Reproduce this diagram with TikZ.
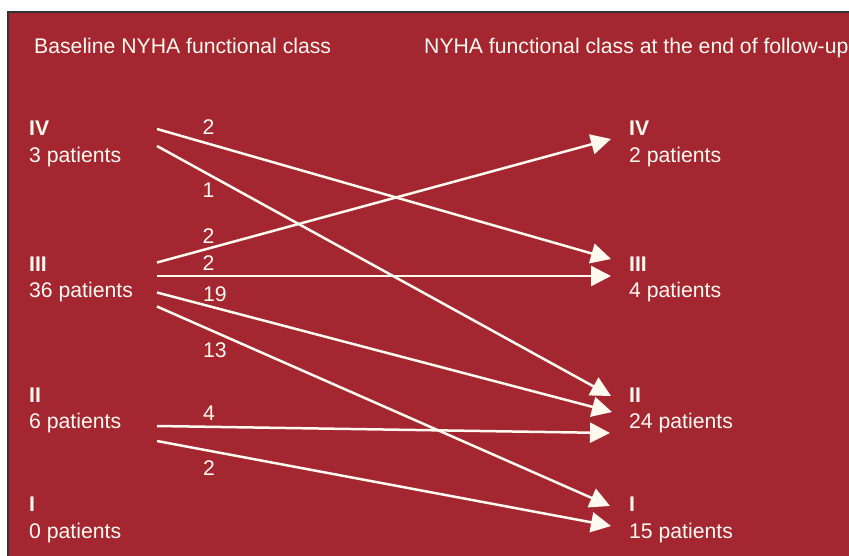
\documentclass[tikz,border=0pt]{standalone}
\usepackage{fontspec}
\setmainfont{Liberation Sans}
\usetikzlibrary{arrows.meta}
\definecolor{bgred}{RGB}{163,38,49}
\definecolor{cream}{RGB}{255,250,240}
\tikzset{
  lbl/.style={anchor=base west, inner sep=0pt, text=cream, font=\fontsize{21.2}{25}\selectfont},
  num/.style={anchor=center, inner sep=0pt, text=cream, font=\fontsize{21.2}{25}\selectfont},
  flow/.style={draw=cream, line width=2.5pt, -{Triangle[length=20pt,width=20pt]}}
}
\begin{document}
\begin{tikzpicture}[x=1pt,y=-1pt]
\useasboundingbox (0,0) rectangle (849,555);
\fill[bgred] (8,12) rectangle (860,560);
\draw[line width=1.5pt, black!80] (8,560) -- (8,12) -- (860,12);
% titles
\node[lbl] (t1) at (34,53) {Baseline NYHA functional class};
\node[lbl] (t2) at (424,53) {NYHA functional class at the end of follow-up};
% left labels
\node[lbl] (l4a) at (29,135) {\bfseries IV};
\node[lbl] (l4b) at (29,162) {3 patients};
\node[lbl] (l3a) at (29,271) {\bfseries III};
\node[lbl] (l3b) at (29,297) {36 patients};
\node[lbl] (l2a) at (29,402) {\bfseries II};
\node[lbl] (l2b) at (29,428) {6 patients};
\node[lbl] (l1a) at (29,511) {\bfseries I};
\node[lbl] (l1b) at (29,538) {0 patients};
% right labels
\node[lbl] (r4a) at (629,135) {\bfseries IV};
\node[lbl] (r4b) at (629,162) {2 patients};
\node[lbl] (r3a) at (629,271) {\bfseries III};
\node[lbl] (r3b) at (629,297) {4 patients};
\node[lbl] (r2a) at (629,402) {\bfseries II};
\node[lbl] (r2b) at (629,428) {24 patients};
\node[lbl] (r1a) at (629,511) {\bfseries I};
\node[lbl] (r1b) at (629,538) {15 patients};
% connector end points
\coordinate (s1) at (157,129);
\coordinate (s2) at (157,146);
\coordinate (s3) at (157,262.5);
\coordinate (s4) at (157,276);
\coordinate (s5) at (157,292.5);
\coordinate (s6) at (157,306.5);
\coordinate (s7) at (157,426);
\coordinate (s8) at (157,441);
\coordinate (e1) at (611,259);
\coordinate (e2) at (611,396);
\coordinate (e3) at (611,139);
\coordinate (e4) at (611,276);
\coordinate (e5) at (612,412);
\coordinate (e6) at (610,506);
\coordinate (e7) at (610,433);
\coordinate (e8) at (611,526);
\draw[flow] (s1) -- (e1);
\draw[flow] (s2) -- (e2);
\draw[flow] (s3) -- (e3);
\draw[flow] (s4) -- (e4);
\draw[flow] (s5) -- (e5);
\draw[flow] (s6) -- (e6);
\draw[flow] (s7) -- (e7);
\draw[flow] (s8) -- (e8);
% numbers
\node[num] (n1) at (208.5,127.5) {2};
\node[num] (n2) at (208.5,190.5) {1};
\node[num] (n3) at (208.5,236) {2};
\node[num] (n4) at (208.5,263.5) {2};
\node[num] (n5) at (215,294.5) {19};
\node[num] (n6) at (215,350.5) {13};
\node[num] (n7) at (209,413.5) {4};
\node[num] (n8) at (209,468) {2};
\end{tikzpicture}
\end{document}
